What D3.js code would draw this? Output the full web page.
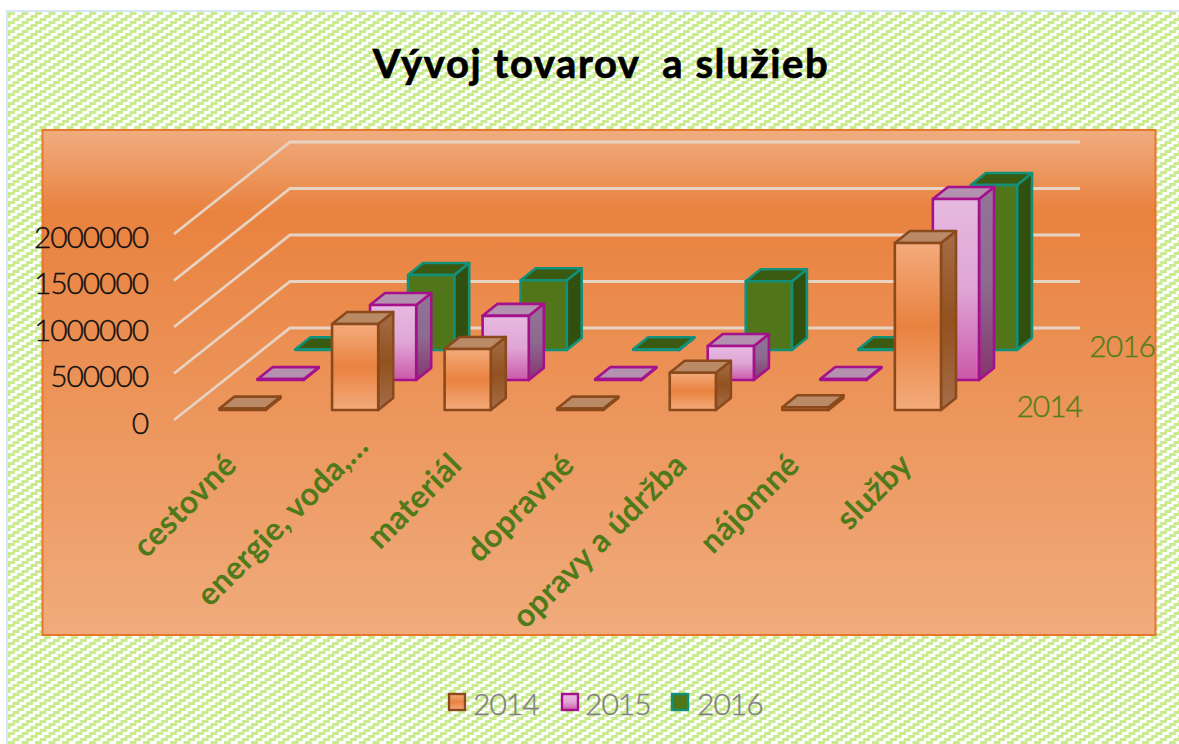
<!DOCTYPE html>
<html>
<head>
<meta charset="utf-8">
<script src="https://cdn.jsdelivr.net/npm/d3@7"></script>
<style>
  html, body { margin: 0; padding: 0; background: #fff; }
  svg { display: block; }
  text { font-family: Lato, "Open Sans", sans-serif; }
</style>
</head>
<body>
<svg id="viz" width="1179" height="744"></svg>
<script>
const title = "Vývoj tovarov  a služieb"
const categories = ["cestovné", "energie, voda,…", "materiál", "dopravné", "opravy a údržba", "nájomné", "služby"]
const seriesNames = ["2014", "2015", "2016"]
const values2014 = [15000, 925000, 656000, 15000, 400000, 30000, 1795000]
const values2015 = [9000, 806000, 690000, 9000, 365000, 10000, 1946000]
const values2016 = [7000, 806000, 750000, 8000, 740000, 8000, 1774000]
const yTicks = [0, 500000, 1000000, 1500000, 2000000]
const depthLabels = ["2014", "2016"]

const seriesValues = { "2014": values2014, "2015": values2015, "2016": values2016 }

const looks = {
    "2014": { stroke: "#8a4a1c", front: ["#f3ab7b", "#e98240", "#f3ab7b"], side: ["#a56d48", "#93521f", "#a56d48"], top: "#b98a65" },
    "2015": { stroke: "#a5108c", front: ["#e6b9e0", "#dfa6d6", "#cb58a8"], side: ["#93759a", "#8d6a90", "#85356f"], top: "#b591b0" },
    "2016": { stroke: "#13907a", front: ["#51761a", "#51761a", "#51761a"], side: ["#31500f", "#31500f", "#31500f"], top: "#395a10" }
}

const svg = d3.select("#viz")
const defs = svg.append("defs")

// stepped hatch, same look as the office "wide upward diagonal" fill
const tileW = 13.5
const hatch = defs.append("pattern")
    .attr("id", "hatch")
    .attr("patternUnits", "userSpaceOnUse")
    .attr("x", 8).attr("y", 12)
    .attr("width", tileW).attr("height", 9)
hatch.selectAll("rect")
    .data(d3.range(3))
    .join("rect")
    .attr("x", d => tileW - d * tileW / 3)
    .attr("y", d => d * 3)
    .attr("width", 7)
    .attr("height", 3)
    .attr("fill", "#c9ea8f")
hatch.selectAll("rect.wrap")
    .data(d3.range(3))
    .join("rect")
    .attr("class", "wrap")
    .attr("x", d => 0 - d * tileW / 3)
    .attr("y", d => d * 3)
    .attr("width", 7)
    .attr("height", 3)
    .attr("fill", "#c9ea8f")

function addGradient(id, stops, offsets) {
    const g = defs.append("linearGradient").attr("id", id).attr("x1", 0).attr("x2", 0).attr("y1", 0).attr("y2", 1)
    g.selectAll("stop")
        .data(stops)
        .join("stop")
        .attr("offset", (d, i) => offsets[i])
        .attr("stop-color", d => d)
}
addGradient("plotFill", ["#f0ad80", "#e9823f", "#f0ab7c"], [0, 0.16, 1])
seriesNames.forEach(s => {
    addGradient(`front${s}`, looks[s].front, [0, 0.5, 1])
    addGradient(`side${s}`, looks[s].side, [0, 0.5, 1])
})

// frame and plot background
svg.append("rect").attr("x", 8).attr("y", 12).attr("width", 1171).attr("height", 732).attr("fill", "url(#hatch)")
svg.append("path").attr("d", "M7,744V11H1179").attr("fill", "none").attr("stroke", "#d6e6f8").attr("stroke-width", 2)
svg.append("rect")
    .attr("x", 42.5).attr("y", 130).attr("width", 1113).attr("height", 505)
    .attr("fill", "url(#plotFill)")
    .attr("stroke", "#e8772e").attr("stroke-width", 2)

svg.append("text")
    .attr("x", 601).attr("y", 78)
    .attr("text-anchor", "middle")
    .attr("font-size", 40).attr("font-weight", 700)
    .attr("letter-spacing", 1.6)
    .attr("stroke", "#000").attr("stroke-width", 0.7)
    .style("white-space", "pre")
    .text(title)

// scales
const x = d3.scaleBand().domain(categories).range([219.5, 941]).paddingInner(0.59).paddingOuter(0)
const h = d3.scaleLinear().domain([0, 2000000]).range([0, 186])
const depthX = d3.scalePoint().domain(seriesNames).range([0, 76])
const depthY = d3.scalePoint().domain(seriesNames).range([0, -60])
const baseY = 410
const barDx = 15
const barDy = -12

// grid: floor edge running back, then along the back wall
const grid = svg.append("g")
grid.selectAll("path")
    .data(yTicks)
    .join("path")
    .attr("d", d => `M174,${420 - h(d)}L290,${328 - h(d)}H1080`)
    .attr("fill", "none")
    .attr("stroke", "#e7d3c3")
    .attr("stroke-width", 2.8)

// y labels
svg.append("g").selectAll("text")
    .data(yTicks)
    .join("text")
    .attr("x", 148)
    .attr("y", d => 423 - h(d))
    .attr("dy", "0.35em")
    .attr("text-anchor", "end")
    .attr("font-size", 30)
    .attr("font-weight", 300)
    .attr("letter-spacing", -1.1)
    .attr("fill", "#111")
    .attr("stroke", "#111").attr("stroke-width", 0.35)
    .text(d => d)

// bars, back row first
const rows = svg.append("g").selectAll("g")
    .data(seriesNames.slice().reverse())
    .join("g")
    .attr("stroke-width", 2.6)
    .attr("stroke-linejoin", "round")
    .attr("stroke", s => looks[s].stroke)

const bars = rows.selectAll("g")
    .data(s => categories.map((c, i) => {
        const x0 = x(c) + depthX(s)
        const y0 = baseY + depthY(s)
        return { s, x0, x1: x0 + x.bandwidth(), y0, y1: y0 - h(seriesValues[s][i]) }
    }))
    .join("g")

bars.append("path")
    .attr("d", d => `M${d.x1},${d.y1}l${barDx},${barDy}V${d.y0 + barDy}l${-barDx},${-barDy}Z`)
    .attr("fill", d => `url(#side${d.s})`)
bars.append("path")
    .attr("d", d => `M${d.x0},${d.y1}l${barDx},${barDy}H${d.x1 + barDx}l${-barDx},${-barDy}Z`)
    .attr("fill", d => looks[d.s].top)
bars.append("rect")
    .attr("x", d => d.x0)
    .attr("y", d => d.y1)
    .attr("width", x.bandwidth())
    .attr("height", d => d.y0 - d.y1)
    .attr("fill", d => `url(#front${d.s})`)

// category labels, the cut off one reaches further up
const labelNudge = [0, 19, 0, 0, 0, 0, 0]
svg.append("g").selectAll("text")
    .data(categories)
    .join("text")
    .attr("transform", (d, i) => `translate(${x(d) + 19 + labelNudge[i]},${467 - labelNudge[i]}) rotate(-45)`)
    .attr("text-anchor", "end")
    .attr("font-size", 32)
    .attr("font-weight", 700)
    .attr("letter-spacing", 0.3)
    .attr("fill", "#4f7a1a")
    .text(d => d)

// depth axis labels
svg.append("g").selectAll("text")
    .data(depthLabels)
    .join("text")
    .attr("x", d => 1082 + depthX(d) * 0.96)
    .attr("y", d => 417 + depthY(d))
    .attr("text-anchor", "end")
    .attr("font-size", 30)
    .attr("font-weight", 300)
    .attr("letter-spacing", -1)
    .attr("fill", "#4f7f1a")
    .attr("stroke", "#4f7f1a").attr("stroke-width", 0.35)
    .text(d => d)

// legend
const legendX = [449, 562, 672]
const legendGap = [24, 23, 25]
const legend = svg.append("g").selectAll("g")
    .data(seriesNames)
    .join("g")
    .attr("transform", (d, i) => `translate(${legendX[i]},694)`)
legend.append("rect")
    .attr("width", 16).attr("height", 16)
    .attr("fill", d => `url(#front${d})`)
    .attr("stroke", d => looks[d].stroke)
    .attr("stroke-width", 2.4)
legend.append("text")
    .attr("x", (d, i) => legendGap[i])
    .attr("y", 21)
    .attr("font-size", 30)
    .attr("font-weight", 300)
    .attr("letter-spacing", -1)
    .attr("fill", "#808080")
    .attr("stroke", "#808080").attr("stroke-width", 0.35)
    .text(d => d)
</script>
</body>
</html>
